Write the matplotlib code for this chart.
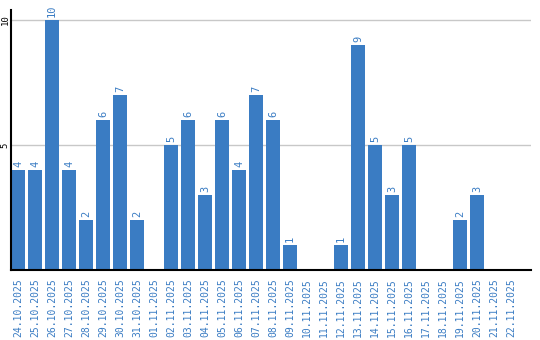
import matplotlib
matplotlib.use("Agg")
import matplotlib.pyplot as plt

# daily counts
dates = ["24.10.2025", "25.10.2025", "26.10.2025", "27.10.2025", "28.10.2025",
         "29.10.2025", "30.10.2025", "31.10.2025", "01.11.2025", "02.11.2025",
         "03.11.2025", "04.11.2025", "05.11.2025", "06.11.2025", "07.11.2025",
         "08.11.2025", "09.11.2025", "10.11.2025", "11.11.2025", "12.11.2025",
         "13.11.2025", "14.11.2025", "15.11.2025", "16.11.2025", "17.11.2025",
         "18.11.2025", "19.11.2025", "20.11.2025", "21.11.2025", "22.11.2025"]
counts = [4, 4, 10, 4, 2, 6, 7, 2, 0, 5,
          6, 3, 6, 4, 7, 6, 1, 0, 0, 1,
          9, 5, 3, 5, 0, 0, 2, 3, 0, 0]
yticks = [5, 10]

blue = "#3a7cc3"
font = "DejaVu Sans Mono"

fig = plt.figure(figsize=(5.4, 3.4), dpi=100)
ax = fig.add_axes([11/540, 70/340, 520/540, 260/340])

x = list(range(len(dates)))
bars = ax.bar(x, counts, width=14/17, align="edge", color=blue, zorder=2)

for xi, v in zip(x, counts):
    if v > 0:
        ax.annotate(str(v), (xi + 7/17, v), xytext=(0, 2), textcoords="offset points",
                    rotation=90, ha="center", va="bottom", color=blue,
                    fontsize=7.5, family=font)

ax.set_xlim(0, 520/17)
ax.set_ylim(0, 10.4)
ax.set_yticks(yticks)
ax.set_yticklabels([str(t) for t in yticks], rotation=90, va="center",
                   fontsize=6.5, family=font, color="black")
ax.set_xticks([xi + 7/17 for xi in x])
ax.set_xticklabels(dates, rotation=90, fontsize=7, family=font, color=blue)
ax.tick_params(axis="both", length=0)
ax.tick_params(axis="x", pad=6)
ax.tick_params(axis="y", pad=1)

ax.grid(axis="y", color="#c8c8c8", linewidth=1, zorder=0)
for s in ["top", "right"]:
    ax.spines[s].set_visible(False)
ax.spines["left"].set_linewidth(1.5)
ax.spines["bottom"].set_linewidth(1.5)

fig.savefig("out.png", dpi=100)
